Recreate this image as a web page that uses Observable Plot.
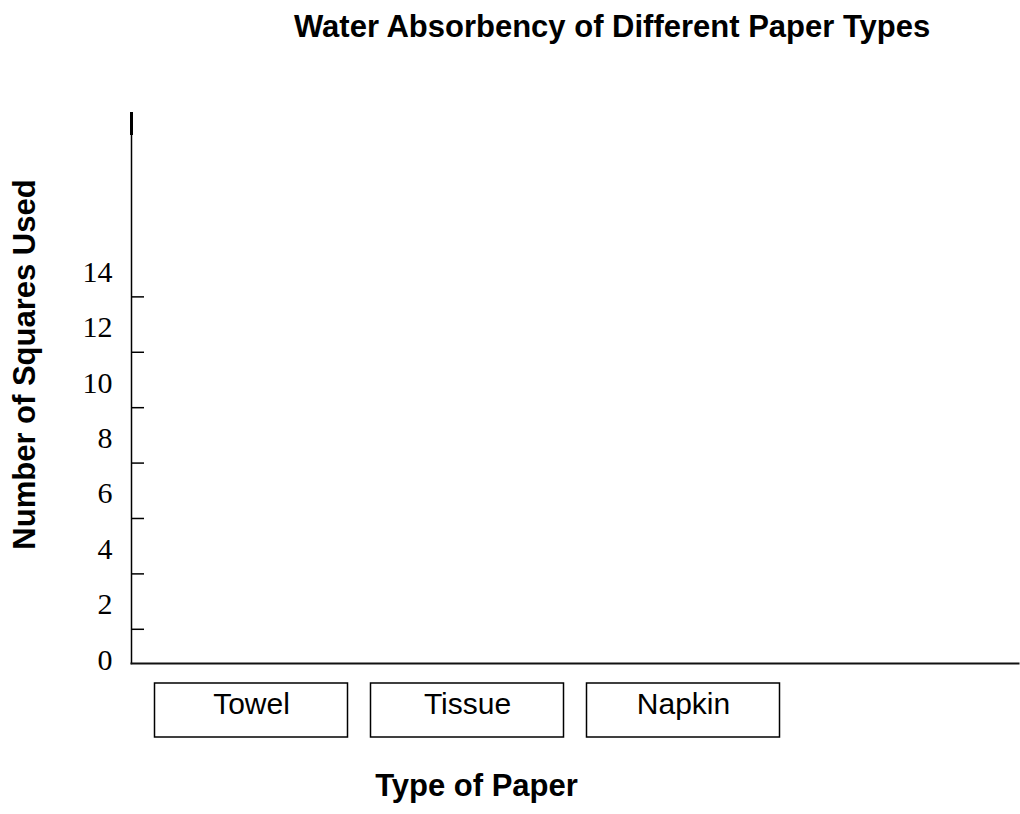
<!DOCTYPE html>
<html>
<head>
<meta charset="utf-8">
<script src="https://cdn.jsdelivr.net/npm/d3@7"></script>
<script src="https://cdn.jsdelivr.net/npm/@observablehq/plot@0.6"></script>
<style>
  html, body { margin: 0; padding: 0; background: #fff; }
  #wrap { position: relative; width: 1020px; height: 814px; }
  #title { position: absolute; z-index: 2; top: 11px; left: 294px; font: bold 31px "Liberation Sans", Arial, sans-serif; line-height: 1; color: #000; white-space: nowrap; }
  #chart { position: absolute; z-index: 1; top: 0; left: 0; }
</style>
</head>
<body>
<div id="wrap">
  <div id="chart"></div>
  <div id="title">Water Absorbency of Different Paper Types</div>
</div>
<script>
const categories = ["Towel", "Tissue", "Napkin"];
const yLabelValues = [0, 2, 4, 6, 8, 10, 12, 14];
const yTickValues = [1, 3, 5, 7, 9, 11, 13];
const xTitle = "Type of Paper";
const yTitle = "Number of Squares Used";

const W = 1020, H = 814;
const mLeft = 131, mRight = 2, mTop = 113, mBottom = 151;
const frameW = W - mLeft - mRight;
const frameH = H - mTop - mBottom;
const sans = "Liberation Sans, Arial, sans-serif";

const chart = Plot.plot({
  width: W,
  height: H,
  marginLeft: mLeft,
  marginRight: mRight,
  marginTop: mTop,
  marginBottom: mBottom,
  style: { background: "transparent", color: "#000" },
  x: { type: "band", domain: categories, range: [142.5, 790.5], padding: 0, axis: null },
  y: { domain: [-0.235, 19.62] },
  marks: [
    Plot.frame({ anchor: "left", stroke: "#000", strokeWidth: 1.5 }),
    Plot.frame({ anchor: "left", stroke: "#000", strokeWidth: 3, insetBottom: frameH - 20 }),
    Plot.frame({ anchor: "bottom", stroke: "#111", strokeWidth: 2 }),
    Plot.axisY({
      ticks: yLabelValues,
      tickSize: 0,
      tickPadding: 19,
      tickFormat: d => String(d),
      fontSize: 30,
      fontFamily: "Liberation Serif, Times New Roman, serif",
      dy: 3,
      label: null
    }),
    Plot.ruleY(yTickValues, { stroke: "#000", strokeWidth: 1.5, insetRight: frameW - 13 }),
    Plot.cell(categories, {
      x: d => d,
      fill: "none",
      stroke: "#000",
      strokeWidth: 1.5,
      insetLeft: 11.5,
      insetRight: 11.5,
      insetTop: frameH + 20,
      insetBottom: -74
    }),
    Plot.text(categories, {
      x: d => d,
      text: d => d,
      frameAnchor: "bottom",
      dy: 50,
      fontSize: 30,
      fontFamily: sans,
      fill: "#000"
    }),
    Plot.text([xTitle], {
      text: d => d,
      frameAnchor: "bottom",
      dx: 476 - (mLeft + frameW / 2),
      dy: 132,
      fontSize: 31,
      fontWeight: "bold",
      fontFamily: sans,
      fill: "#000"
    }),
    Plot.text([yTitle], {
      text: d => d,
      frameAnchor: "left",
      textAnchor: "middle",
      rotate: -90,
      dx: 25 - mLeft,
      dy: 364 - (mTop + frameH / 2),
      fontSize: 31,
      fontWeight: "bold",
      fontFamily: sans,
      fill: "#000"
    })
  ]
});
document.getElementById("chart").appendChild(chart);
</script>
</body>
</html>
